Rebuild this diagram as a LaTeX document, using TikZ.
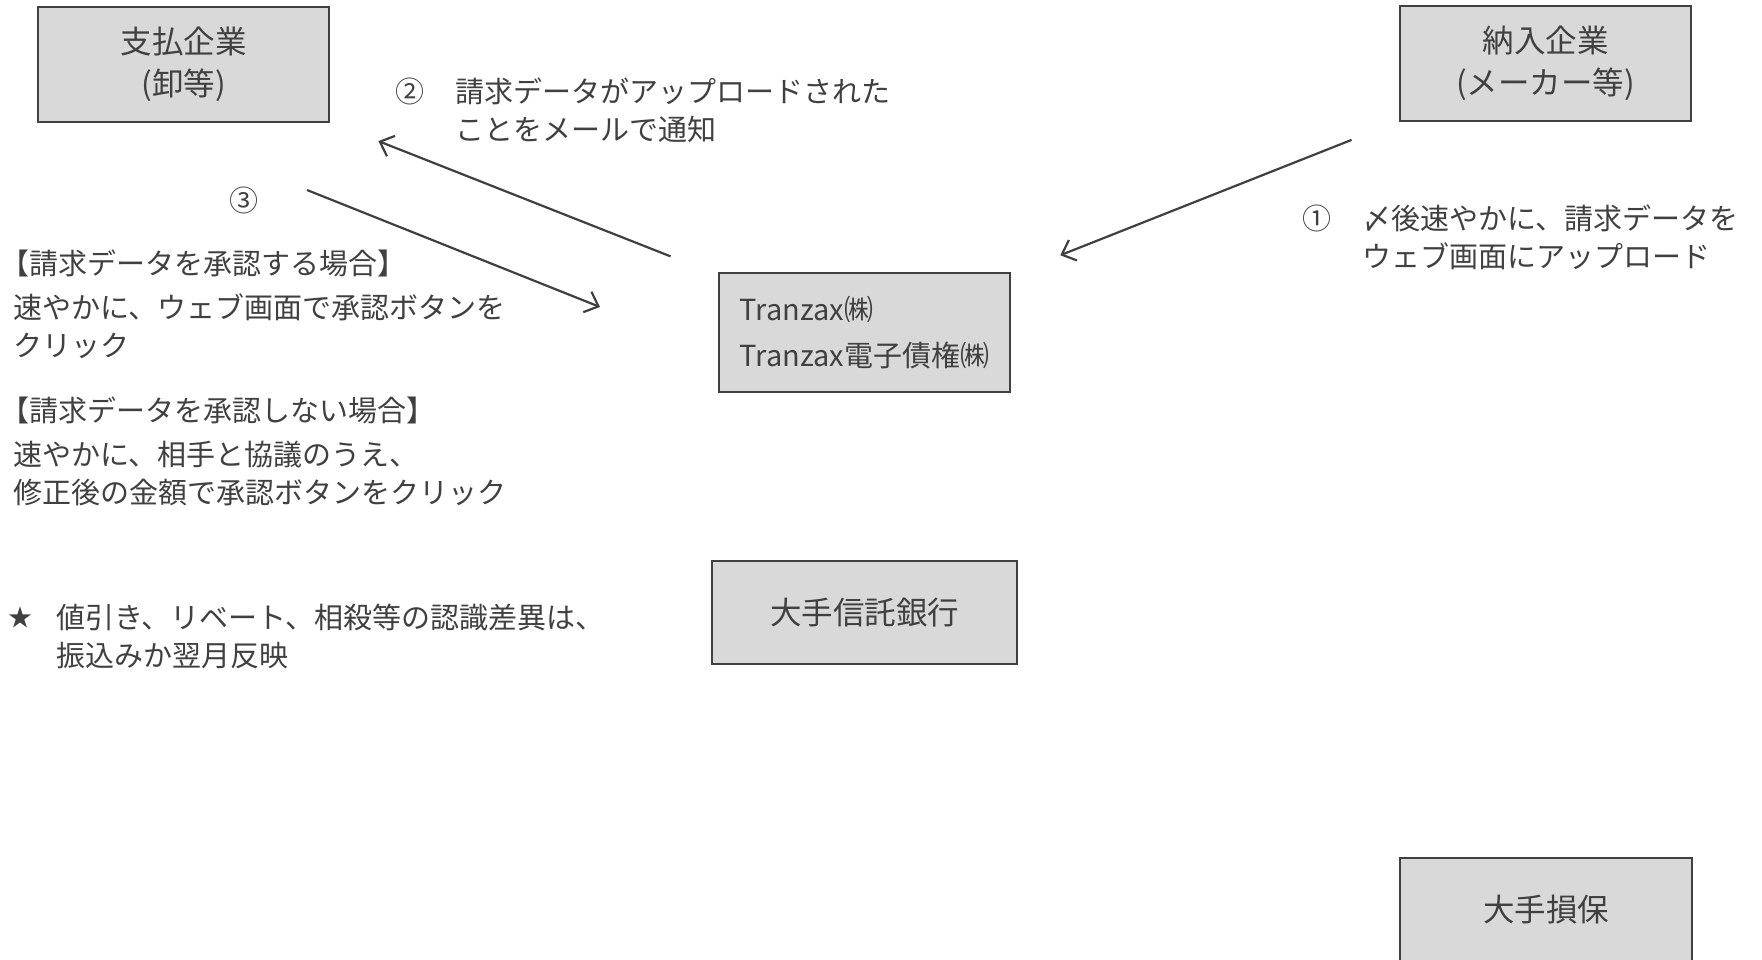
\documentclass[tikz,border=0pt]{standalone}
\usepackage{fontspec}
\setmainfont{Noto Sans CJK JP}
\usetikzlibrary{arrows.meta}

\definecolor{txtgray}{HTML}{404040}
\definecolor{linegray}{HTML}{404040}
\definecolor{boxgray}{HTML}{D9D9D9}
\newcommand\bodyfont{\fontsize{29}{38}\selectfont}
\newcommand\boxfont{\fontsize{31.5}{41.5}\selectfont}

\begin{document}
\begin{tikzpicture}[x=1pt,y=-1pt]
            \tikzstyle{every node}+=[inner sep=0pt, text=txtgray]
            \tikzstyle{box}=[draw=linegray, line width=2pt, fill=boxgray, align=center, font=\boxfont]
            \tikzstyle{flow}=[draw=linegray, line width=2.2pt, -{Straight Barb[length=12pt,width=22pt,line width=2.2pt]}]
            \tikzstyle{memo}=[align=left, anchor=west, font=\bodyfont]
            \useasboundingbox (0,0) rectangle (1762,960);
            % companies
            \node [box, minimum width=291pt, minimum height=115pt] (pay) at (183.5,64.5) {支払企業\\(卸等)};
            \node [box, minimum width=291pt, minimum height=115pt] (supply) at (1545.5,63.5) {納入企業\\(メーカー等)};
            \node [box, minimum width=291pt, minimum height=119pt, align=left, font=\fontsize{29}{46}\selectfont] (tranzax) at (864.5,332.5) {Tranzax㈱\\Tranzax電子債権㈱};
            \node [box, minimum width=305pt, minimum height=103pt] (trust) at (864.5,612.5) {大手信託銀行};
            \node [box, minimum width=292pt, minimum height=103pt] (insure) at (1546,909.5) {大手損保};
            % flows
            \draw [flow, shorten <=51pt, shorten >=53pt] (supply) -- (tranzax);
            \draw [flow, shorten <=51pt, shorten >=52pt] (tranzax) -- (pay);
            \coordinate (ok start) at (307,190);
            \coordinate (ok end) at (600,307);
            \draw [flow] (ok start) -- (ok end);
            % step labels
            \node [font=\bodyfont] (no1) at (1317,218) {①};
            \node [memo] (upload) at (1362,237.5) {〆後速やかに、請求データを\\ウェブ画面にアップロード};
            \node [font=\bodyfont] (no2) at (410,91) {②};
            \node [memo] (mail) at (455,110) {請求データがアップロードされた\\ことをメールで通知};
            \node [font=\bodyfont] (no3) at (244,200) {③};
            \node [memo] (okhead) at (0,263) {【請求データを承認する場合】};
            \node [memo] (okbody) at (13,326.5) {速やかに、ウェブ画面で承認ボタンを\\クリック};
            \node [memo] (nghead) at (0,410) {【請求データを承認しない場合】};
            \node [memo] (ngbody) at (13,473.5) {速やかに、相手と協議のうえ、\\修正後の金額で承認ボタンをクリック};
            \node [font=\fontsize{24}{24}\selectfont] (star) at (21,617) {★};
            \node [memo] (note) at (56,636.5) {値引き、リベート、相殺等の認識差異は、\\振込みか翌月反映};
\end{tikzpicture}
\end{document}
